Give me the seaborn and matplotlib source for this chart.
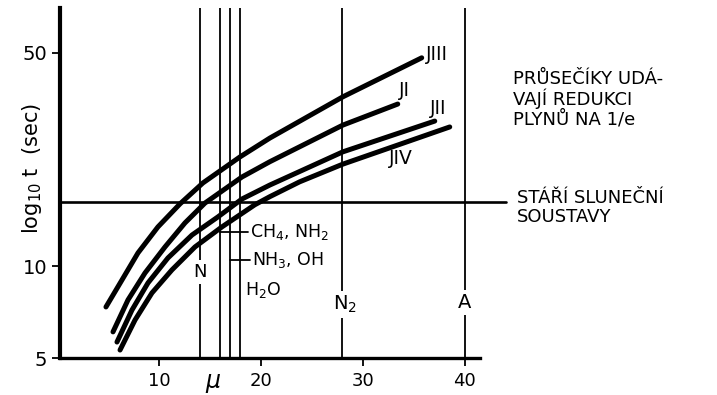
#!/usr/bin/env python
# -*- coding: utf-8 -*-

import numpy as np
import pandas as pd
import seaborn as sns
import matplotlib
matplotlib.use("Agg")
import matplotlib.pyplot as plt

# molekulova hmotnost (mu) a log10 t pro kazdy mesic
mu_j3 = [4.8, 6.37, 7.94, 9.9, 12.06, 14.31, 17.94, 20.88, 28.04, 35.78]
t_j3 = [7.35, 9.01, 11.05, 13.45, 16.0, 18.74, 22.8, 26.3, 35.9, 48.2]

mu_j1 = [5.49, 6.96, 8.63, 10.59, 12.55, 14.51, 18.14, 20.88, 28.04, 33.43]
t_j1 = [6.09, 7.75, 9.5, 11.56, 13.86, 16.1, 19.6, 22.0, 29.0, 34.0]

mu_j2 = [5.88, 7.35, 8.92, 10.88, 13.24, 15.78, 18.14, 20.88, 28.04, 37.06]
t_j2 = [5.64, 7.18, 8.81, 10.64, 12.65, 14.5, 16.6, 18.45, 23.7, 29.9]

mu_j4 = [6.18, 7.65, 9.31, 11.27, 13.53, 16.18, 19.41, 20.88, 23.8, 28.04,
         38.53]
t_j4 = [5.31, 6.66, 8.17, 9.72, 11.56, 13.45, 15.9, 16.9, 18.9, 21.6, 28.6]

# plyny (svisle cary)
plyny_mu = [14, 16, 17, 18, 28, 40]
stari_soustavy = 16.2

y_ticks = [5, 10, 50]
x_ticks = [10, 20, 30, 40]

frames = []
for name, m, t in [("JIII", mu_j3, t_j3), ("JI", mu_j1, t_j1),
                   ("JII", mu_j2, t_j2), ("JIV", mu_j4, t_j4)]:
    frames.append(pd.DataFrame({"mu": m, "t": t, "mesic": name}))
data = pd.concat(frames, ignore_index=True)

sns.set_theme(style="ticks")
plt.rcParams["font.family"] = ["DejaVu Sans"]
plt.rcParams["text.color"] = "black"
plt.rcParams["xtick.color"] = "black"
plt.rcParams["ytick.color"] = "black"
plt.rcParams["axes.labelcolor"] = "black"

fig = plt.figure(figsize=(7.17, 3.95), dpi=100)
ax = fig.add_axes([60 / 717, 37 / 395, 420 / 717, 350 / 395])

ax.set_yscale("log")
ax.set_xlim(0.29, 41.5)
ax.set_ylim(5, 70.2)

# svisle cary plynu
for m in plyny_mu:
    ax.axvline(m, color="black", lw=1.3, zorder=1)

# stari slunecni soustavy
ax.plot([0.29, 44.1], [stari_soustavy, stari_soustavy], color="black",
        lw=1.9, clip_on=False, zorder=2)

pal = {"JIII": "black", "JI": "black", "JII": "black", "JIV": "black"}
sns.lineplot(data=data, x="mu", y="t", hue="mesic", palette=pal,
             legend=False, sort=False, estimator=None, lw=3.6, ax=ax,
             zorder=3)
for line in ax.get_lines()[-4:]:
    line.set_solid_capstyle("round")
    line.set_solid_joinstyle("round")

# popisky krivek
lab = dict(fontsize=13.5, color="black", ha="left", va="center")
ax.text(36.2, 49.5, "JIII", **lab)
ax.text(33.5, 37.8, "JI", **lab)
ax.text(36.6, 33.0, "JII", **lab)
ax.text(32.6, 22.6, "JIV", **lab)

# popisky plynu
box = dict(boxstyle="square,pad=0.15", fc="white", ec="none")
ax.text(14, 9.57, "N", fontsize=13, ha="center", va="center", bbox=box,
        zorder=4)
ax.text(28.3, 7.5, "N$_2$", fontsize=14, ha="center", va="center",
        bbox=box, zorder=4)
ax.text(40, 7.6, "A", fontsize=14, ha="center", va="center", bbox=box,
        zorder=4)

ax.plot([16, 18.7], [12.95, 12.95], color="black", lw=1.3, zorder=2)
ax.plot([17, 18.9], [10.5, 10.5], color="black", lw=1.3, zorder=2)
ax.text(18.9, 12.95, "CH$_4$, NH$_2$", fontsize=12.5, ha="left",
        va="center")
ax.text(19.1, 10.5, "NH$_3$, OH", fontsize=12.5, ha="left", va="center")
ax.text(18.4, 8.36, "H$_2$O", fontsize=12.5, ha="left", va="center")

ax.text(15.3, -0.065, "μ", fontsize=17, style="italic", ha="center",
        va="center", transform=ax.get_xaxis_transform())

# osy
ax.set_yticks(y_ticks)
ax.set_yticklabels([str(v) for v in y_ticks])
ax.yaxis.set_minor_locator(matplotlib.ticker.NullLocator())
ax.set_xticks(x_ticks)
ax.set_xticklabels([str(v) for v in x_ticks])
ax.tick_params(axis="y", labelsize=14, width=1.3, length=6, pad=3)
ax.tick_params(axis="x", labelsize=13, width=1.3, length=6, pad=4)
sns.despine(ax=ax)
ax.spines["left"].set_linewidth(3.0)
ax.spines["bottom"].set_linewidth(2.4)
ax.spines["left"].set_color("black")
ax.spines["bottom"].set_color("black")
ax.set_xlabel("")
ax.set_ylabel("")

fig.text(32 / 717, 1 - 168 / 395, "log$_{10}$ t  (sec)", rotation=90,
         fontsize=15, ha="center", va="center")

fig.text(513 / 717, 1 - 70 / 395,
         "PRŮSEČÍKY UDÁ-\nVAJÍ REDUKCI\nPLYNŮ NA 1/e",
         fontsize=13, ha="left", va="top", linespacing=1.05)
fig.text(517 / 717, 1 - 189 / 395, "STÁŘÍ SLUNEČNÍ\nSOUSTAVY",
         fontsize=13, ha="left", va="top", linespacing=1.05)

fig.savefig("out.png", dpi=100)
